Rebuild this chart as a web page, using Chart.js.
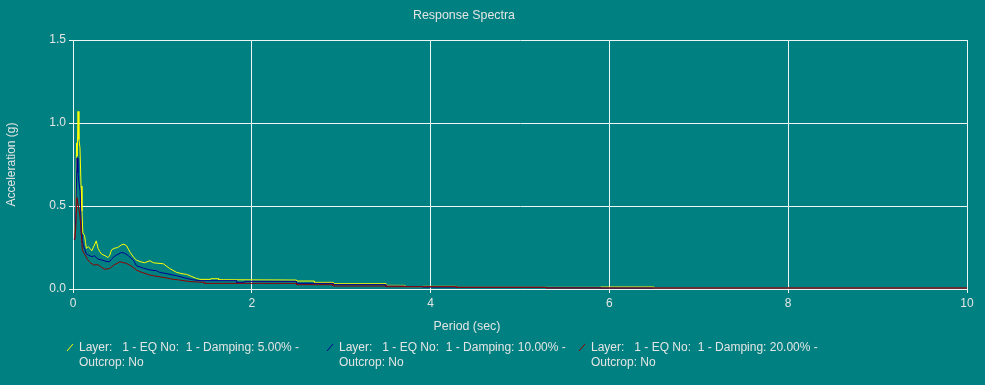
<!DOCTYPE html>
<html>
<head>
<meta charset="utf-8">
<script src="https://cdn.jsdelivr.net/npm/chart.js@4"></script>
<style>
  html, body { margin: 0; padding: 0; background: #008080; }
  #wrap { position: relative; width: 985px; height: 385px; }
  #legend { position: absolute; left: 0; top: 0; width: 985px; height: 385px; pointer-events: none;
            font-family: "Liberation Sans", Arial, sans-serif; font-size: 12px; color: #e4e4e4; }
  .item { position: absolute; top: 340px; white-space: pre; line-height: 15px; }
  .item svg { position: absolute; left: -13px; top: 3px; }
  .label { position: absolute; white-space: pre; line-height: 14px; transform: translateX(-50%); }
</style>
</head>
<body>
<div id="wrap">
  <canvas id="myChart" width="985" height="385"></canvas>
  <div id="legend">
    <div class="label" style="left:464px; top:8px; font-size:12.4px;">Response Spectra</div>
    <div class="label" style="left:467px; top:319px; font-size:12.4px;">Period (sec)</div>
  </div>
</div>
<script>
// periods (sec) and spectral acceleration (g) for each damping ratio
const period5 = [0.01,0.02,0.03,0.04,0.048,0.056,0.066,0.078,0.09,0.10,0.11,0.12,0.13,0.14,0.15,0.17,0.19,0.21,0.24,0.26,0.28,0.30,0.32,0.36,0.39,0.41,0.43,0.46,0.50,0.54,0.57,0.60,0.64,0.68,0.71,0.75,0.80,0.86,0.90,0.95,1.01,1.08,1.16,1.22,1.27,1.33,1.38,1.42,1.54,1.54,1.63,1.63,2.50,2.50,2.70,2.70,2.91,2.91,3.50,3.50,3.71,3.71,3.91,3.91,4.29,4.29,5.90,5.90,6.50,6.50,10];
const accel5 = [0.31,0.31,0.45,0.88,0.80,1.07,0.90,0.85,0.62,0.47,0.34,0.33,0.32,0.28,0.245,0.255,0.245,0.23,0.265,0.29,0.245,0.225,0.21,0.20,0.19,0.20,0.235,0.245,0.25,0.265,0.27,0.26,0.22,0.19,0.174,0.165,0.158,0.17,0.158,0.155,0.152,0.124,0.10,0.092,0.088,0.075,0.064,0.058,0.058,0.062,0.062,0.056,0.054,0.048,0.048,0.040,0.040,0.032,0.032,0.022,0.022,0.014,0.014,0.016,0.016,0.010,0.010,0.012,0.012,0.006,0.006];

const period10 = [0.01,0.02,0.03,0.045,0.055,0.065,0.08,0.093,0.10,0.115,0.13,0.15,0.17,0.21,0.24,0.28,0.32,0.38,0.41,0.43,0.46,0.49,0.54,0.58,0.62,0.675,0.71,0.79,0.86,0.935,0.97,1.05,1.12,1.16,1.27,1.34,1.42,1.83,1.83,1.92,1.92,2.50,2.50,2.91,2.91,3.50,3.50,3.71,3.71,3.91,3.91,4.29,4.29,5.29,5.29,5.90,5.90,10];
const accel10 = [0.30,0.30,0.42,0.79,0.70,0.65,0.59,0.33,0.30,0.264,0.24,0.21,0.205,0.195,0.20,0.18,0.175,0.165,0.165,0.18,0.195,0.205,0.22,0.215,0.20,0.174,0.14,0.125,0.115,0.11,0.10,0.092,0.084,0.080,0.064,0.056,0.050,0.050,0.040,0.040,0.046,0.046,0.034,0.034,0.026,0.026,0.018,0.018,0.014,0.014,0.012,0.012,0.010,0.010,0.008,0.008,0.006,0.006];

const period20 = [0.01,0.02,0.03,0.045,0.06,0.075,0.086,0.105,0.13,0.16,0.19,0.23,0.28,0.32,0.36,0.41,0.46,0.525,0.60,0.66,0.71,0.75,0.86,0.90,1.05,1.12,1.18,1.30,1.47,1.47,2.50,2.50,2.91,2.91,3.50,3.50,4.29,4.29,5.29,5.29,10];
const accel20 = [0.30,0.30,0.36,0.55,0.50,0.45,0.39,0.234,0.21,0.18,0.16,0.145,0.146,0.13,0.118,0.124,0.145,0.164,0.154,0.135,0.114,0.104,0.084,0.08,0.066,0.058,0.055,0.045,0.040,0.034,0.034,0.026,0.026,0.018,0.018,0.014,0.014,0.010,0.010,0.006,0.006];

const seriesLabels = [
  'Layer:   1 - EQ No:  1 - Damping: 5.00% -\nOutcrop: No',
  'Layer:   1 - EQ No:  1 - Damping: 10.00% -\nOutcrop: No',
  'Layer:   1 - EQ No:  1 - Damping: 20.00% -\nOutcrop: No'
];
const seriesColors = ['#ffff00', '#000090', '#900000'];
const legendX = [79, 339, 591];

const xTicks = [0, 2, 4, 6, 8, 10];
const yTicks = [0, 0.5, 1.0, 1.5];

const toPoints = (xs, ys) => xs.map((x, i) => ({ x: x, y: ys[i] }));

const textColor = '#e4e4e4';
const gridColor = '#eef6f6';
Chart.defaults.font.family = '"Liberation Sans", Arial, sans-serif';
Chart.defaults.font.size = 12;
Chart.defaults.color = textColor;

const makeSet = (label, xs, ys, color, order) => ({
  label: label,
  data: toPoints(xs, ys),
  borderColor: color,
  borderWidth: 1,
  pointRadius: 0,
  tension: 0,
  fill: false,
  order: order
});

new Chart(document.getElementById('myChart'), {
  type: 'line',
  data: {
    datasets: [
      makeSet(seriesLabels[0], period5, accel5, seriesColors[0], 3),
      makeSet(seriesLabels[1], period10, accel10, seriesColors[1], 2),
      makeSet(seriesLabels[2], period20, accel20, seriesColors[2], 1)
    ]
  },
  options: {
    responsive: false,
    animation: false,
    layout: { padding: { left: 0, right: 18, top: 40, bottom: 48 } },
    plugins: {
      legend: { display: false },
      tooltip: { enabled: false },
      title: { display: false }
    },
    scales: {
      x: {
        type: 'linear',
        min: 0, max: 10,
        afterBuildTicks: s => { s.ticks = xTicks.map(v => ({ value: v })); },
        afterFit: s => { s.height = 48; },
        ticks: { color: textColor, padding: 3, maxRotation: 0 },
        grid: { color: gridColor, lineWidth: 1, tickLength: 4, drawTicks: true },
        border: { color: gridColor }
      },
      y: {
        type: 'linear',
        min: 0, max: 1.5,
        afterBuildTicks: s => { s.ticks = yTicks.map(v => ({ value: v })); },
        afterFit: s => { s.width = 73; },
        ticks: { color: textColor, padding: 3, callback: v => v.toFixed(1) },
        grid: { color: gridColor, lineWidth: 1, tickLength: 4 },
        border: { color: gridColor },
        title: { display: true, text: 'Acceleration (g)', color: textColor, padding: { top: 4, bottom: 4 } }
      }
    }
  }
});

// legend below the plot, two lines per entry
const legend = document.getElementById('legend');
seriesLabels.forEach((txt, i) => {
  const div = document.createElement('div');
  div.className = 'item';
  div.style.left = legendX[i] + 'px';
  div.innerHTML = '<svg width="8" height="9"><line x1="1" y1="8" x2="7" y2="1" stroke="' + seriesColors[i] + '" stroke-width="1"/></svg>';
  div.appendChild(document.createTextNode(txt));
  legend.appendChild(div);
});
</script>
</body>
</html>
